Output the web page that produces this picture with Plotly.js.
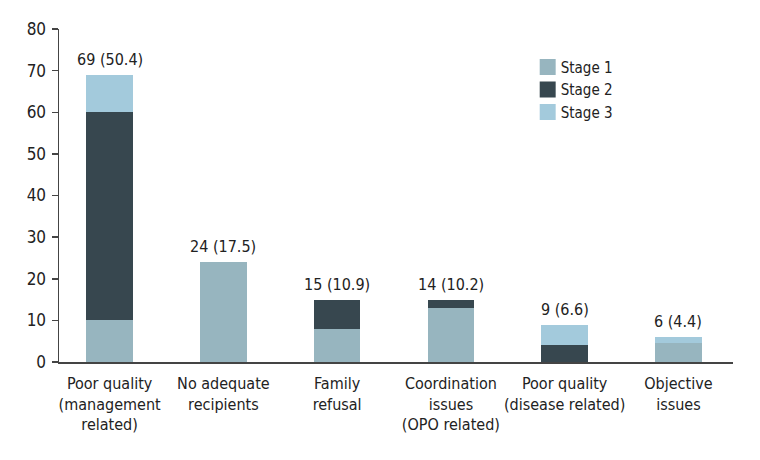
<!DOCTYPE html>
<html>
<head>
<meta charset="utf-8">
<script src="https://cdn.plot.ly/plotly-3.0.1.min.js"></script>
<style>
html,body{margin:0;padding:0;background:#fff;}
#chart{width:760px;height:460px;}
#chart text{font-stretch:condensed !important;}
#chart .legendpoints path{transform:translate(27px,0) scale(1.33);}
</style>
</head>
<body>
<div id="chart"></div>
<script>
const categories = ["Poor quality (management related)", "No adequate recipients", "Family refusal", "Coordination issues (OPO related)", "Poor quality (disease related)", "Objective issues"];
const tickLabels = ["Poor quality<br>(management<br>related)", "No adequate<br>recipients", "Family<br>refusal", "Coordination<br>issues<br>(OPO related)", "Poor quality<br>(disease related)", "Objective<br>issues"];
const stage1 = [10, 24, 8, 13, 0, 4.5];
const stage2 = [50, 0, 7, 2, 4, 0];
const stage3 = [9, 0, 0, 0, 5, 1.5];
const totalLabels = ["69 (50.4)", "24 (17.5)", "15 (10.9)", "14 (10.2)", "9 (6.6)", "6 (4.4)"];
const seriesNames = ["Stage 1", "Stage 2", "Stage 3"];

const FONT = "'DejaVu Sans Condensed', 'DejaVu Sans', sans-serif";
const colors = ["#97b5bf", "#37474f", "#a3cadc"];
const series = [stage1, stage2, stage3];

const traces = series.map((vals, i) => ({
  type: "bar",
  name: seriesNames[i],
  x: categories,
  y: vals,
  width: 0.41,
  marker: {color: colors[i], line: {width: 0}},
  hoverinfo: "skip"
}));

const totals = categories.map((c, i) => stage1[i] + stage2[i] + stage3[i]);
const annotations = categories.map((c, i) => ({
  x: c, y: totals[i], xref: "x", yref: "y",
  text: totalLabels[i], showarrow: false,
  yanchor: "bottom", yshift: 4,
  font: {family: FONT, size: 16, color: "#222"}
}));

const layout = {
  width: 760, height: 460,
  margin: {l: 59, r: 27, t: 29, b: 98},
  paper_bgcolor: "#fff", plot_bgcolor: "#fff",
  barmode: "stack",
  font: {family: FONT, size: 15, color: "#222"},
  showlegend: true,
  legend: {
    x: 0.685, y: 0.935, xanchor: "left", yanchor: "top",
    font: {family: FONT, size: 15, color: "#222"},
    bgcolor: "rgba(0,0,0,0)", traceorder: "normal",
    itemclick: false
  },
  xaxis: {
    type: "category",
    range: [-0.445, 5.48],
    tickvals: categories, ticktext: tickLabels,
    tickangle: 0,
    ticklabelstandoff: 6,
    showline: true, linecolor: "#444", linewidth: 1.5,
    ticks: "", showgrid: false, zeroline: false,
    tickfont: {family: FONT, size: 16, color: "#222"},
    automargin: false
  },
  yaxis: {
    range: [0, 80], dtick: 10, tick0: 0,
    showline: true, linecolor: "#444", linewidth: 1.5,
    ticks: "outside", ticklen: 6, tickwidth: 1.5, tickcolor: "#444",
    ticklabelstandoff: 2,
    showgrid: false, zeroline: false,
    tickfont: {family: FONT, size: 17, color: "#222"},
    automargin: false
  },
  annotations: annotations
};

Plotly.newPlot("chart", traces, layout, {displayModeBar: false, staticPlot: true});
</script>
</body>
</html>
